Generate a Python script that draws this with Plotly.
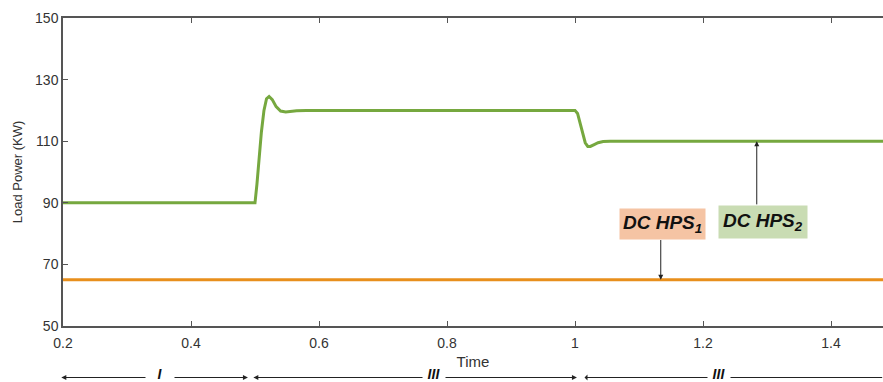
import plotly.graph_objects as go

# Data
time_hps2 = [0.2, 0.5, 0.503, 0.506, 0.51, 0.514, 0.518, 0.522, 0.527, 0.533, 0.54, 0.548,
             0.556, 0.565, 0.58, 1.0, 1.004, 1.008, 1.012, 1.016, 1.02, 1.024, 1.03, 1.036,
             1.044, 1.055, 1.5]
power_hps2 = [90, 90, 96, 104, 113, 120, 123.8, 124.5, 123.5, 121.2, 119.8, 119.5,
              119.7, 119.9, 120, 120, 119, 116, 112.5, 109.5, 108.3, 108.3, 108.9, 109.5,
              109.9, 110, 110]
time_hps1 = [0.2, 1.5]
power_hps1 = [65, 65]

x_ticks = [0.2, 0.4, 0.6, 0.8, 1.0, 1.2, 1.4]
x_tick_labels = ["0.2", "0.4", "0.6", "0.8", "1", "1.2", "1.4"]
y_ticks = [50, 70, 90, 110, 130, 150]

period_labels = ["I", "III", "III"]
period_bounds = [(0.195, 0.489), (0.495, 1.003), (1.0125, 1.48)]
period_label_x = [0.352, 0.78, 1.225]

GREEN = "#76a83f"
ORANGE = "#e88f1c"
AXIS = "#555555"
FONT = "Liberation Sans, Arial, sans-serif"

fig = go.Figure()
fig.add_trace(go.Scatter(x=time_hps1, y=power_hps1, mode="lines",
                         line=dict(color=ORANGE, width=3), showlegend=False))
fig.add_trace(go.Scatter(x=time_hps2, y=power_hps2, mode="lines",
                         line=dict(color=GREEN, width=3), showlegend=False))

ARROW_Y = -(377.5 - 326) / 308
LABEL_Y = -(374 - 326) / 308

annotations = []
# period arrows below the axis
for (a, b), lab, lx in zip(period_bounds, period_labels, period_label_x):
    annotations.append(dict(x=b, y=ARROW_Y, xref="x", yref="paper", ax=a, ay=0,
                            axref="x", ayref="pixel", text="", showarrow=True,
                            arrowhead=2, arrowsize=1, arrowwidth=1, arrowcolor="#222",
                            arrowside="end+start" if b < 1.4 else "start"))
    annotations.append(dict(x=lx, y=LABEL_Y, xref="x", yref="paper", text="<b><i>" + lab + "</i></b>",
                            showarrow=False, bgcolor="white", borderpad=1,
                            font=dict(family=FONT, size=14, color="#111"),
                            xanchor="center", yanchor="middle",
                            width=26 if len(lab) == 1 else 20))

# HPS labels
annotations.append(dict(x=1.137, y=83.0, xref="x", yref="y", text="<b><i>DC HPS<sub>1</sub></i></b>",
                        showarrow=False, bgcolor="#f5c4a4", borderpad=3,
                        font=dict(family=FONT, size=19, color="#111")))
annotations.append(dict(x=1.294, y=83.8, xref="x", yref="y", text="<b><i>DC HPS<sub>2</sub></i></b>",
                        showarrow=False, bgcolor="#c9dcb3", borderpad=4,
                        font=dict(family=FONT, size=19, color="#111")))
annotations.append(dict(x=1.134, y=65, xref="x", yref="y", ax=1.134, ay=78.4, axref="x", ayref="y",
                        text="", showarrow=True, arrowhead=2, arrowsize=1, arrowwidth=1,
                        arrowcolor="#222"))
annotations.append(dict(x=1.284, y=110, xref="x", yref="y", ax=1.284, ay=89.0, axref="x", ayref="y",
                        text="", showarrow=True, arrowhead=2, arrowsize=1, arrowwidth=1,
                        arrowcolor="#222"))

fig.update_layout(
    width=883, height=382,
    margin=dict(l=63, r=0, t=18, b=56),
    paper_bgcolor="white", plot_bgcolor="white",
    font=dict(family=FONT, size=14, color="#333"),
    annotations=annotations,
    xaxis=dict(range=[0.2, 0.2 + 820 / 640], tickvals=x_ticks, ticktext=x_tick_labels,
               ticks="inside", ticklen=5, tickcolor=AXIS, showline=True, linecolor=AXIS,
               linewidth=1.5, mirror="ticks", showgrid=False, zeroline=False,
               ticklabelstandoff=3,
               title=dict(text="Time", standoff=7, font=dict(size=15, color="#333"))),
    yaxis=dict(range=[50, 150], tickvals=y_ticks, ticks="inside", ticklen=5,
               tickcolor=AXIS, showline=True, linecolor=AXIS, linewidth=1.5,
               showgrid=False, zeroline=False,
               title=dict(text="Load Power (KW)", standoff=10, font=dict(size=13, color="#333"))),
)

fig.write_html("out.html", config={"displayModeBar": False},
               post_script="document.body.style.margin='0';document.body.style.overflow='hidden';")
